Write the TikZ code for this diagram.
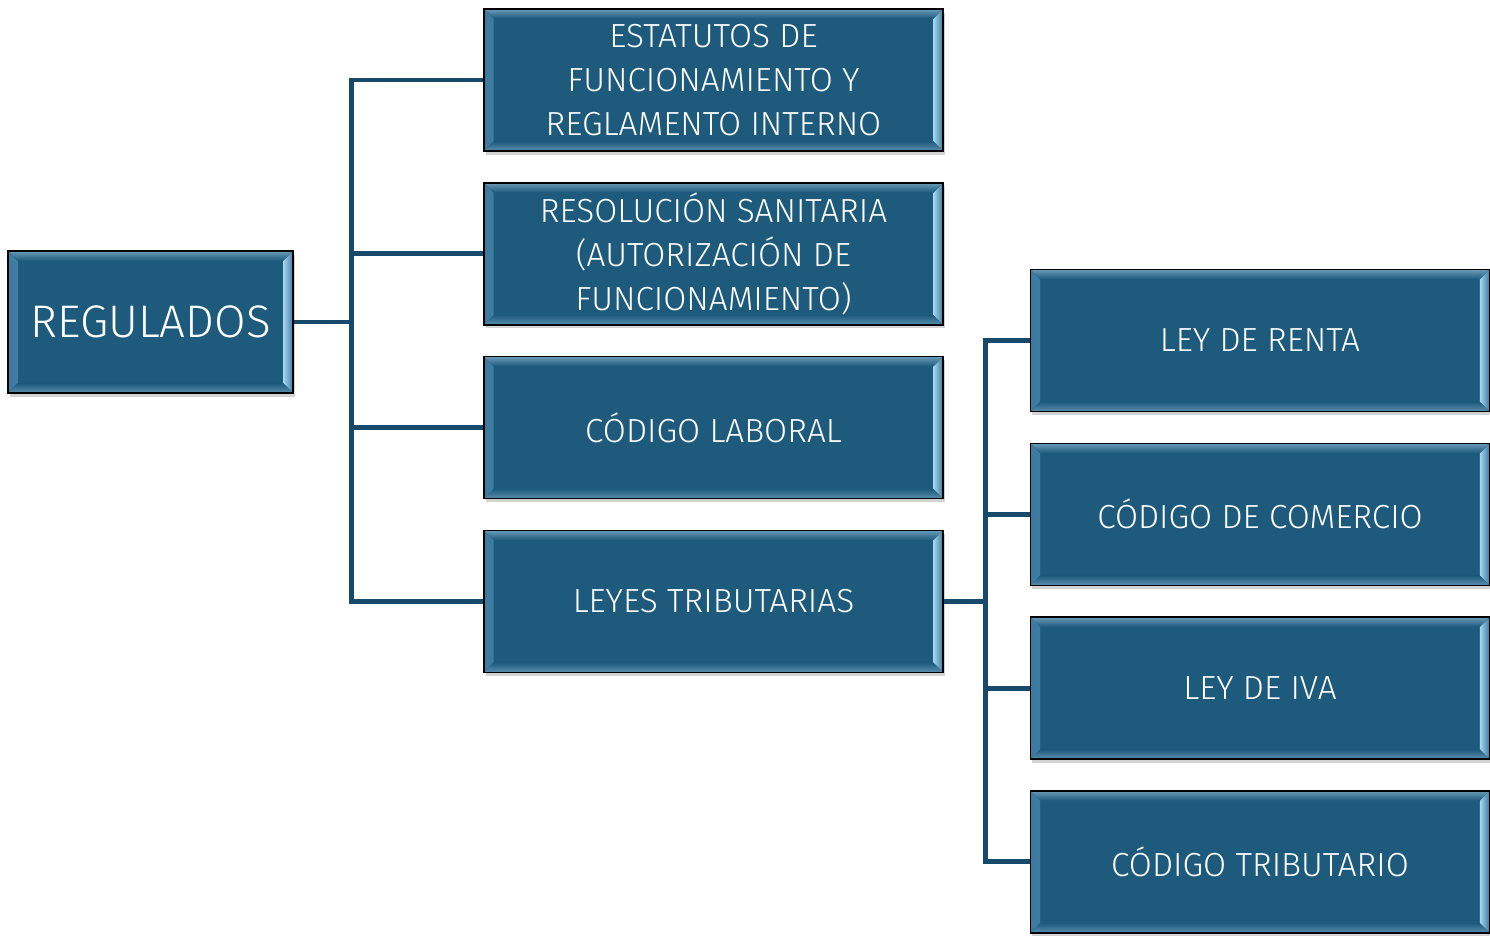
\documentclass[tikz,border=0pt]{standalone}
\usepackage{fontspec}
\setmainfont{Fira Sans Light}
\usetikzlibrary{positioning,shadows}
\definecolor{boxfill}{HTML}{1D5A7C}
\definecolor{linkblue}{HTML}{174A6A}
\definecolor{bevouter}{HTML}{3C7AA0}
\definecolor{bevinner}{HTML}{A6D6F2}
\definecolor{bevtop}{HTML}{6A9AB8}
\definecolor{bevbot}{HTML}{5A8FAF}
% bevelled edges drawn inside every box
\newcommand{\bevelstrips}{%
  \fill[left color=bevouter, right color=bevinner]
    (path picture bounding box.north west) -- ([shift={(5.5pt,-5.5pt)}]path picture bounding box.north west)
    -- ([shift={(5.5pt,5.5pt)}]path picture bounding box.south west) -- (path picture bounding box.south west) -- cycle;
  \fill[right color=bevouter, left color=bevinner]
    (path picture bounding box.north east) -- ([shift={(-5.5pt,-5.5pt)}]path picture bounding box.north east)
    -- ([shift={(-5.5pt,5.5pt)}]path picture bounding box.south east) -- (path picture bounding box.south east) -- cycle;
  \fill[top color=bevtop, bottom color=boxfill]
    (path picture bounding box.north west) -- ([shift={(5.5pt,-5.5pt)}]path picture bounding box.north west)
    -- ([shift={(-5.5pt,-5.5pt)}]path picture bounding box.north east) -- (path picture bounding box.north east) -- cycle;
  \fill[bottom color=bevbot, top color=boxfill]
    (path picture bounding box.south west) -- ([shift={(5.5pt,5.5pt)}]path picture bounding box.south west)
    -- ([shift={(-5.5pt,5.5pt)}]path picture bounding box.south east) -- (path picture bounding box.south east) -- cycle;
}
\tikzset{
        % Blue boxes
        box/.style={draw=black, line width=0.9pt, fill=boxfill, text=white, align=center,
                    minimum width=9.18cm, minimum height=2.84cm, inner sep=0pt,
                    font=\fontsize{19}{25}\selectfont,
                    drop shadow={shadow xshift=1pt, shadow yshift=-2pt, opacity=0.35},
                    path picture={\bevelstrips}},
        % Root box
        rootbox/.style={box, minimum width=5.7cm, font=\fontsize{26}{32}\selectfont},
        % Connectors
        link/.style={draw=linkblue, line width=2.8pt}
}
\begin{document}
\begin{tikzpicture}[x=0.02cm, y=-0.02cm, node distance=0.605cm]
    \useasboundingbox (0,0) rectangle (1490,937);
    \node[rootbox] (reg) at (150.5,322) {REGULADOS};
    \node[box] (est) at (713.5,80) {ESTATUTOS DE\\FUNCIONAMIENTO Y\\REGLAMENTO INTERNO};
    \node[box, below=of est] (res) {RESOLUCIÓN SANITARIA\\(AUTORIZACIÓN DE\\FUNCIONAMIENTO)};
    \node[box, below=of res] (lab) {CÓDIGO LABORAL};
    \node[box, below=of lab] (trib) {LEYES TRIBUTARIAS};
    \node[box] (renta) at (1260,340.5) {LEY DE RENTA};
    \node[box, below=of renta] (com) {CÓDIGO DE COMERCIO};
    \node[box, below=of com] (iva) {LEY DE IVA};
    \node[box, below=of iva] (ctrib) {CÓDIGO TRIBUTARIO};
    % first fork
    \draw[link] (reg.east) -- ++(59,0);
    \draw[link] (est.west) -- ++(-132,0) |- (trib.west);
    \draw[link] (res.west) -- ++(-132,0);
    \draw[link] (lab.west) -- ++(-132,0);
    % second fork
    \draw[link] (trib.east) -- ++(44,0);
    \draw[link] (renta.west) -- ++(-44,0) |- (ctrib.west);
    \draw[link] (com.west) -- ++(-44,0);
    \draw[link] (iva.west) -- ++(-44,0);
\end{tikzpicture}
\end{document}
